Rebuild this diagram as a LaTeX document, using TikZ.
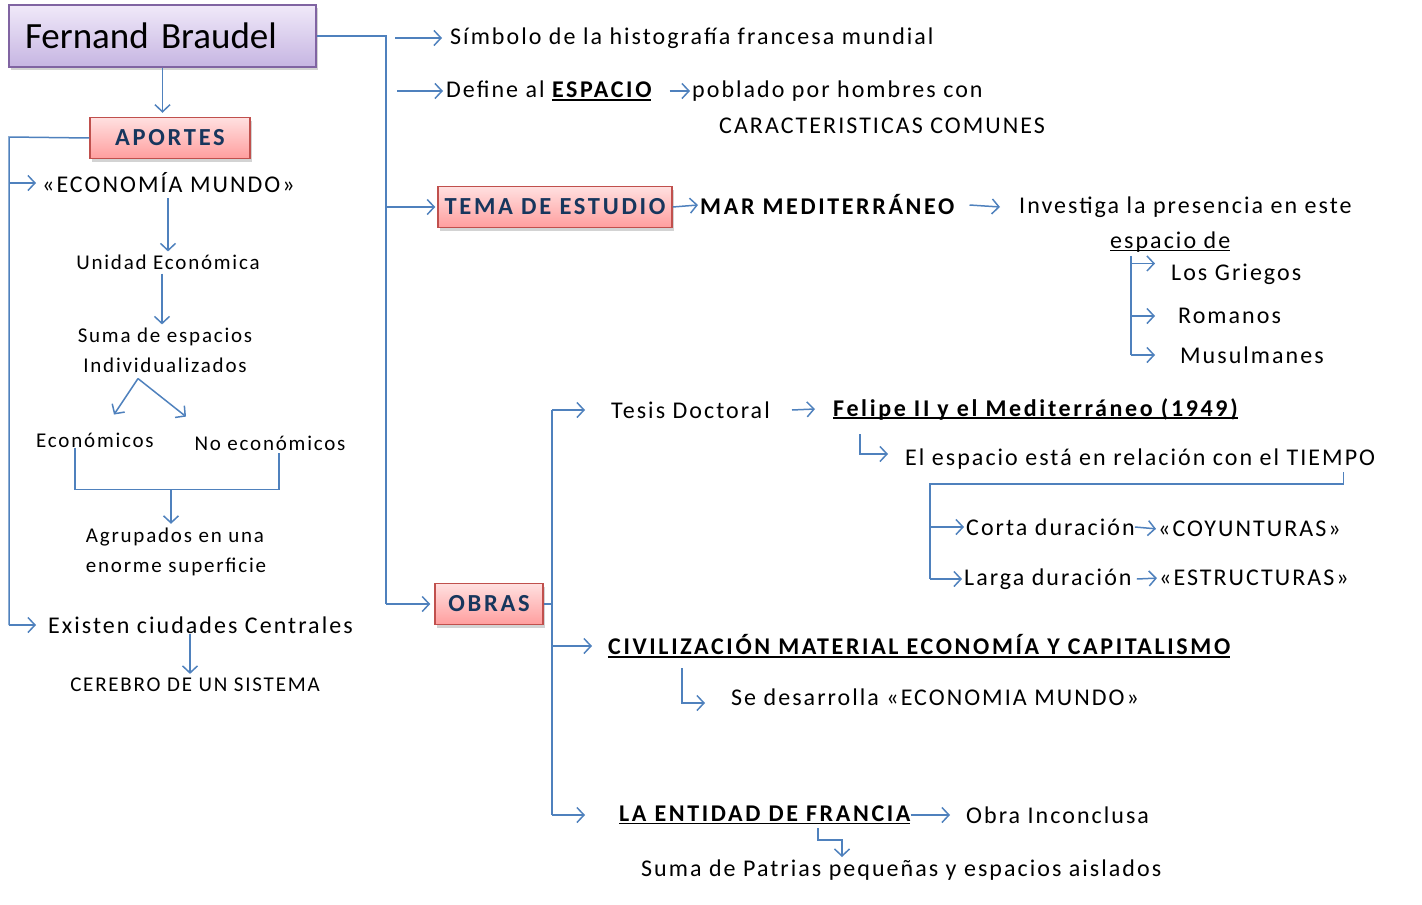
\documentclass[tikz,border=0pt]{standalone}
\usepackage{fontspec}
\setmainfont{Carlito}[LetterSpace=8.5, BoldFeatures={LetterSpace=11}]
\newfontfamily\plainfont{Carlito}
\usetikzlibrary{positioning, calc, arrows.meta, shadows}
\definecolor{linkblue}{RGB}{79, 129, 189}
\definecolor{violetedge}{RGB}{128, 100, 162}
\definecolor{violettop}{RGB}{240, 233, 249}
\definecolor{violetbottom}{RGB}{198, 181, 226}
\definecolor{rededge}{RGB}{192, 80, 77}
\definecolor{redtop}{RGB}{255, 224, 224}
\definecolor{redbottom}{RGB}{255, 158, 158}
\definecolor{navytext}{RGB}{23, 54, 93}
\newsavebox{\undlbox}
\newcommand{\undl}[1]{\sbox{\undlbox}{#1}\rlap{\rule[-3pt]{\wd\undlbox}{1.6pt}}\usebox{\undlbox}}

\begin{document}
\begin{tikzpicture}[
            x=1pt, y=-1pt,
            body/.style={anchor=west, inner sep=0pt, font=\fontsize{24}{29}\selectfont},
            heading/.style={body, font=\bfseries\fontsize{24}{29}\selectfont},
            small/.style={inner sep=0pt, align=center, font=\fontsize{21}{30}\selectfont},
            titlebox/.style={draw=violetedge, line width=1.5pt, top color=violettop, bottom color=violetbottom, minimum width=307pt, minimum height=62pt, inner xsep=16pt, text width=275pt, align=left, font=\plainfont\fontsize{37}{42}\selectfont, drop shadow={shadow xshift=2pt, shadow yshift=-3pt, opacity=0.35}},
            catbox/.style={draw=rededge, line width=1.5pt, top color=redtop, bottom color=redbottom, text=navytext, minimum height=41pt, font=\bfseries\fontsize{24.5}{29}\selectfont, drop shadow={shadow xshift=2pt, shadow yshift=-3pt, opacity=0.35}},
            link/.style={linkblue, line width=1.5pt},
            arrow/.style={link, -{Straight Barb[length=7pt, width=15pt]}}
        ]
            \useasboundingbox (0,0) rectangle (1422,905);

            % left column
            \node[titlebox] (braudel) at (162.5,36) {\raisebox{-4pt}{Fernand Braudel}};
            \node[catbox, minimum width=160pt] (aportes) at (170,138) {APORTES};
            \node[body] (ecomundo) at (42,183) {«ECONOMÍA MUNDO»};
            \node[small] (unidad) at (168,262) {Unidad Económica};
            \node[small] (suma) at (165,350) {Suma de espacios\\Individualizados};
            \node[small] (econ) at (95,440) {Económicos};
            \node[small] (noecon) at (270,443) {No económicos};
            \node[small, align=left] (agrupados) at (176,552) {Agrupados en una\\enorme superficie};
            \node[body] (ciudades) at (48,625) {Existen ciudades Centrales};
            \node[small] (cerebro) at (195,685) {CEREBRO DE UN SISTEMA};

            \coordinate (ltop) at (9,137);
            \coordinate (lbot) at (9,625);
            \draw [arrow, shorten >=4pt] (braudel.south) -- (braudel.south |- aportes.north);
            \draw [link] (aportes.west) -- (ltop) -- (lbot);
            \draw [arrow] (ltop |- ecomundo) -- ([xshift=-6pt]ecomundo.west);
            \draw [arrow] (lbot) -- ([xshift=-12pt]ciudades.west);
            \draw [arrow, shorten <=5pt, shorten >=3pt] (unidad.north |- ecomundo.south) -- (unidad.north);
            \draw [arrow, shorten <=4pt, shorten >=3pt] ([xshift=-6pt]unidad.south) -- ([xshift=-3pt]suma.north);
            \coordinate (split) at ([xshift=-27pt, yshift=-6pt]suma.south);
            \draw [arrow] (split) -- ++(-24,36);
            \draw [arrow] (split) -- ++(48,38);
            \draw [link] ([xshift=-20pt]econ.south) -- ++(0,42) coordinate (bl) -| ([xshift=9pt, yshift=-2pt]noecon.south);
            \draw [arrow, shorten >=4pt] ([xshift=-5pt]bl -| agrupados.north) -- ([xshift=-5pt]agrupados.north);
            \draw [arrow, shorten >=4pt] ([xshift=-5pt]cerebro.north |- ciudades.south) -- ([xshift=-5pt]cerebro.north);

            % right column
            \node[body] (simbolo) at (450,38) {Símbolo de la histografía francesa mundial};
            \node[body] (define) at (446,91) {Define al \undl{\bfseries ESPACIO}};
            \node[body] (poblado) at (692,91) {poblado por hombres con};
            \node[body] (comunes) at (719,126) {CARACTERISTICAS COMUNES};
            \node[catbox, minimum width=234pt] (tema) at (555,207) {TEMA DE ESTUDIO};
            \node[heading] (mar) at (700,205) {MAR MEDITERRÁNEO};
            \node[body] (investiga) at (1019,207) {Investiga la presencia en este};
            \node[body] (espacio) at (1110,242) {\undl{espacio de}};
            \node[body] (griegos) at (1171,274) {Los Griegos};
            \node[body] (romanos) at (1178,316) {Romanos};
            \node[body] (musul) at (1180,355) {Musulmanes};
            \node[catbox, minimum width=108pt] (obras) at (489,604) {OBRAS};

            \coordinate (rtop) at (386,36);
            \coordinate (rbot) at (386,604);
            \draw [link] (braudel.east) -- (rtop) -- (rbot);
            \draw [arrow, shorten >=4pt] (rbot) -- (obras.west);
            \draw [arrow, shorten >=2pt] (rtop |- tema) -- (tema.west);
            \draw [arrow] ([xshift=-55pt]simbolo.west) -- ([xshift=-8pt]simbolo.west);
            \draw [arrow] ([xshift=-49pt]define.west) -- ([xshift=-3pt]define.west);
            \draw [arrow] ([xshift=18pt]define.east) -- ([xshift=-2pt]poblado.west);
            \draw [arrow] (tema.east) -- ([xshift=-2pt]mar.west);
            \draw [arrow] ([xshift=15pt]mar.east) -- ([xshift=-19pt]investiga.west);
            \coordinate (gtrunk) at ([xshift=21pt, yshift=-4pt]espacio.south west);
            \draw [link] (gtrunk) -- (gtrunk |- musul);
            \draw [arrow] (gtrunk |- griegos.north) -- ++(24,0);
            \foreach \n in {romanos, musul}
                \draw [arrow] (gtrunk |- \n) -- ++(24,0);

            % works
            \node[body] (tesis) at (611,410) {Tesis Doctoral};
            \node[heading] (felipe) at (833,409) {\undl{Felipe II y el Mediterráneo (1949)}};
            \node[body] (tiempo) at (905,459) {El espacio está en relación con el TIEMPO};
            \node[body] (corta) at (966,527) {Corta duración};
            \node[body] (coyun) at (1158,529) {«COYUNTURAS»};
            \node[body] (larga) at (964,579) {Larga duración};
            \node[body] (estruc) at (1159,578) {«ESTRUCTURAS»};
            \node[heading] (civil) at (608,646) {\undl{CIVILIZACIÓN MATERIAL ECONOMÍA Y CAPITALISMO}};
            \node[body] (desarrolla) at (731,697) {Se desarrolla «ECONOMIA MUNDO»};
            \node[heading] (francia) at (619,815) {\undl{LA ENTIDAD DE FRANCIA}};
            \node[body] (inconclusa) at (966,815) {Obra Inconclusa};
            \node[body] (patrias) at (641,870) {Suma de Patrias pequeñas y espacios aislados};

            \coordinate (otrunk) at (552,604);
            \draw [link] (obras.east) -- (otrunk);
            \draw [link] (otrunk |- tesis) -- (otrunk |- francia);
            \draw [arrow] (otrunk |- tesis) -- ([xshift=-26pt]tesis.west);
            \draw [arrow] (otrunk |- civil) -- ([xshift=-16pt]civil.west);
            \draw [arrow] (otrunk |- francia) -- ([xshift=-34pt]francia.west);
            \draw [arrow] ([xshift=22pt]tesis.east) -- ([xshift=-18pt]felipe.west);
            \draw [arrow] ([xshift=27pt, yshift=-25pt]felipe.west) |- ([xshift=-17pt, yshift=5pt]tiempo.west);
            \coordinate (tjoin) at ([xshift=25pt, yshift=-25pt]tiempo.west);
            \draw [link] ([xshift=-32pt, yshift=-13pt]tiempo.east) |- (tjoin) -- (tjoin |- larga);
            \draw [arrow, shorten >=2pt] (tjoin |- corta) -- (corta.west);
            \draw [arrow, shorten >=2pt] (tjoin |- larga) -- (larga.west);
            \draw [arrow, shorten >=2pt] (corta.east) -- (coyun.west);
            \draw [arrow, shorten >=2pt] ([xshift=5pt]larga.east) -- (estruc.west);
            \draw [arrow] ([xshift=74pt, yshift=-22pt]civil.west) |- ([xshift=-26pt, yshift=-6pt]desarrolla.west);
            \draw [arrow] (francia.east) -- ([xshift=-16pt]inconclusa.west);
            \draw [arrow] ([xshift=199pt, yshift=-13pt]francia.west) -- ++(0,12) -| ([xshift=201pt, yshift=13pt]patrias.west);
        \end{tikzpicture}
\end{document}
